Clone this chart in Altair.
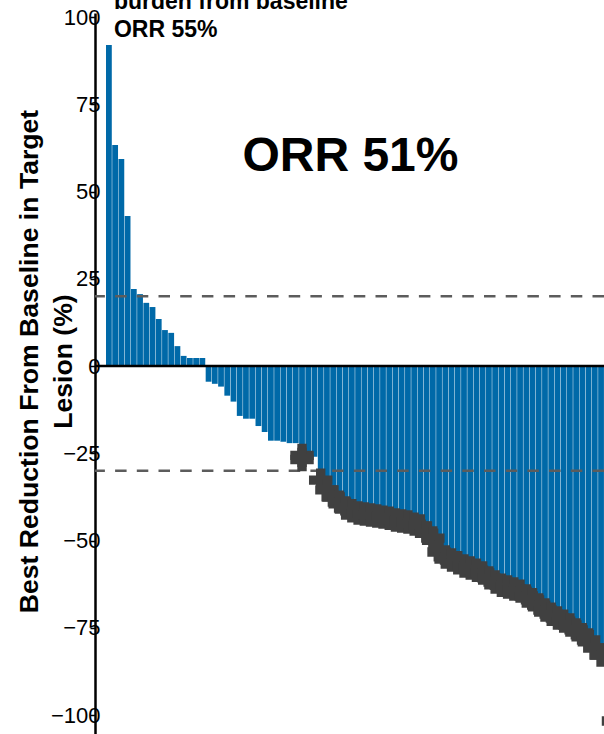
import altair as alt
import pandas as pd

# Best change from baseline in target lesions, one bar per patient (sorted)
bar_values = [
    92.0, 63.3, 59.3, 43.0, 22.1, 20.6, 18.1, 16.9, 13.5, 10.3,
    9.5, 5.7, 2.9, 2.3, 2.3, 2.3, -4.5, -5.1, -5.9, -8.5,
    -10.2, -14.3, -15.1, -15.1, -17.2, -18.9, -21.4, -21.4, -21.7, -22.1,
    -22.1, -24.0, -26.0, -26.0, -32.7, -35.5, -37.5, -39.0, -40.7, -41.5,
    -42.1, -42.4, -42.7, -43.0, -43.3, -43.6, -44.1, -44.4, -44.7, -45.3,
    -45.8, -47.9, -49.3, -53.3, -54.7, -55.6, -56.4, -57.3, -57.9, -58.5,
    -59.3, -60.7, -61.9, -62.8, -63.3, -63.9, -64.5, -65.9, -67.0, -68.5,
    -69.9, -71.1, -72.2, -73.1, -74.2, -75.6, -77.0, -78.5, -80.8, -82.8,
]

# Best change in total tumour burden (marker series), by patient position
marker_index = [31, 31] + list(range(34, 80)) + [81]
marker_values = [
    -25.6, -26.8,
    -32.7, -35.5, -37.5, -39.0, -40.7, -41.5, -42.1, -42.4, -42.7, -43.0,
    -43.3, -43.6, -44.1, -44.4, -44.7, -45.3, -45.8, -47.9, -49.3, -53.3,
    -54.7, -55.6, -56.4, -57.3, -57.9, -58.5, -59.3, -60.7, -61.9, -62.8,
    -63.3, -63.9, -64.5, -65.9, -67.0, -68.5, -69.9, -71.1, -72.2, -73.1,
    -74.2, -75.6, -77.0, -78.5, -80.8, -82.8, -101.7,
]

threshold_values = [20, -30]
y_ticks = [-100, -75, -50, -25, 0, 25, 50, 75, 100]

FONT = "Liberation Sans"
BAR_BLUE = "#0069a8"
MARKER_GREY = "#404040"
BAR_WIDTH = 0.93

bars = pd.DataFrame({"patient": range(len(bar_values)), "change": bar_values})
bars["left"] = bars["patient"]
bars["right"] = bars["patient"] + BAR_WIDTH

markers = pd.DataFrame({"patient": marker_index, "change": marker_values})
markers["center"] = markers["patient"] + BAR_WIDTH / 2

x_scale = alt.Scale(domain=[-1.766, 79.94], nice=False, zero=False)
y_scale = alt.Scale(domain=[-105.44, 101.15], nice=False, zero=False)

y_axis = alt.Axis(
    values=y_ticks,
    grid=False,
    domainColor="black",
    domainWidth=2.5,
    tickColor="black",
    tickWidth=1.5,
    tickSize=5,
    labelPadding=-10,
    labelFont=FONT,
    labelFontSize=22,
    labelColor="black",
    title=["Best Reduction From Baseline in Target", "Lesion (%)"],
    titleFont=FONT,
    titleFontSize=26.6,
    titleFontWeight="bold",
    titleColor="black",
    titleAngle=270,
    titleAlign="center",
    titleBaseline="alphabetic",
    titleLineHeight=34,
    titleX=-58,
    titleY=348,
)

bar_layer = alt.Chart(bars).mark_bar(color=BAR_BLUE, clip=True).encode(
    x=alt.X("left:Q", scale=x_scale, axis=None),
    x2="right:Q",
    y=alt.Y("change:Q", scale=y_scale, axis=y_axis),
    y2=alt.datum(0),
)

threshold_layer = alt.Chart(pd.DataFrame({"level": threshold_values})).mark_rule(
    color="#5c5c5c", strokeWidth=2.6, strokeDash=[11.5, 10.2]
).encode(y=alt.Y("level:Q", scale=y_scale))

zero_layer = alt.Chart(pd.DataFrame({"level": [0]})).mark_rule(
    color="black", strokeWidth=2.5
).encode(y=alt.Y("level:Q", scale=y_scale))

marker_layer = alt.Chart(markers).mark_point(
    shape="cross", filled=True, size=550, color=MARKER_GREY, opacity=1
).encode(
    x=alt.X("center:Q", scale=x_scale),
    y=alt.Y("change:Q", scale=y_scale),
)

big_label = alt.Chart(pd.DataFrame({"x": [39.24], "y": [55.9], "t": ["ORR 51%"]})).mark_text(
    font=FONT, fontSize=48, fontWeight="bold", color="black", align="center", baseline="alphabetic"
).encode(x=alt.X("x:Q", scale=x_scale), y=alt.Y("y:Q", scale=y_scale), text="t:N")

note_label = alt.Chart(
    pd.DataFrame({"x": [1.28, 1.28], "y": [102.4, 94.4], "t": ["burden from baseline", "ORR 55%"]})
).mark_text(
    font=FONT, fontSize=23, fontWeight="bold", color="black", align="left", baseline="alphabetic"
).encode(x=alt.X("x:Q", scale=x_scale), y=alt.Y("y:Q", scale=y_scale), text="t:N")

chart = (
    alt.layer(bar_layer, threshold_layer, zero_layer, marker_layer, big_label, note_label)
    .properties(
        width=509,
        height=721,
        autosize=alt.AutoSizeParams(type="none"),
        padding={"left": 95, "top": 13, "right": 0, "bottom": 0},
        background="white",
    )
    .configure_view(stroke=None)
)

chart.save("out.html", embed_options={"renderer": "svg", "actions": False})
